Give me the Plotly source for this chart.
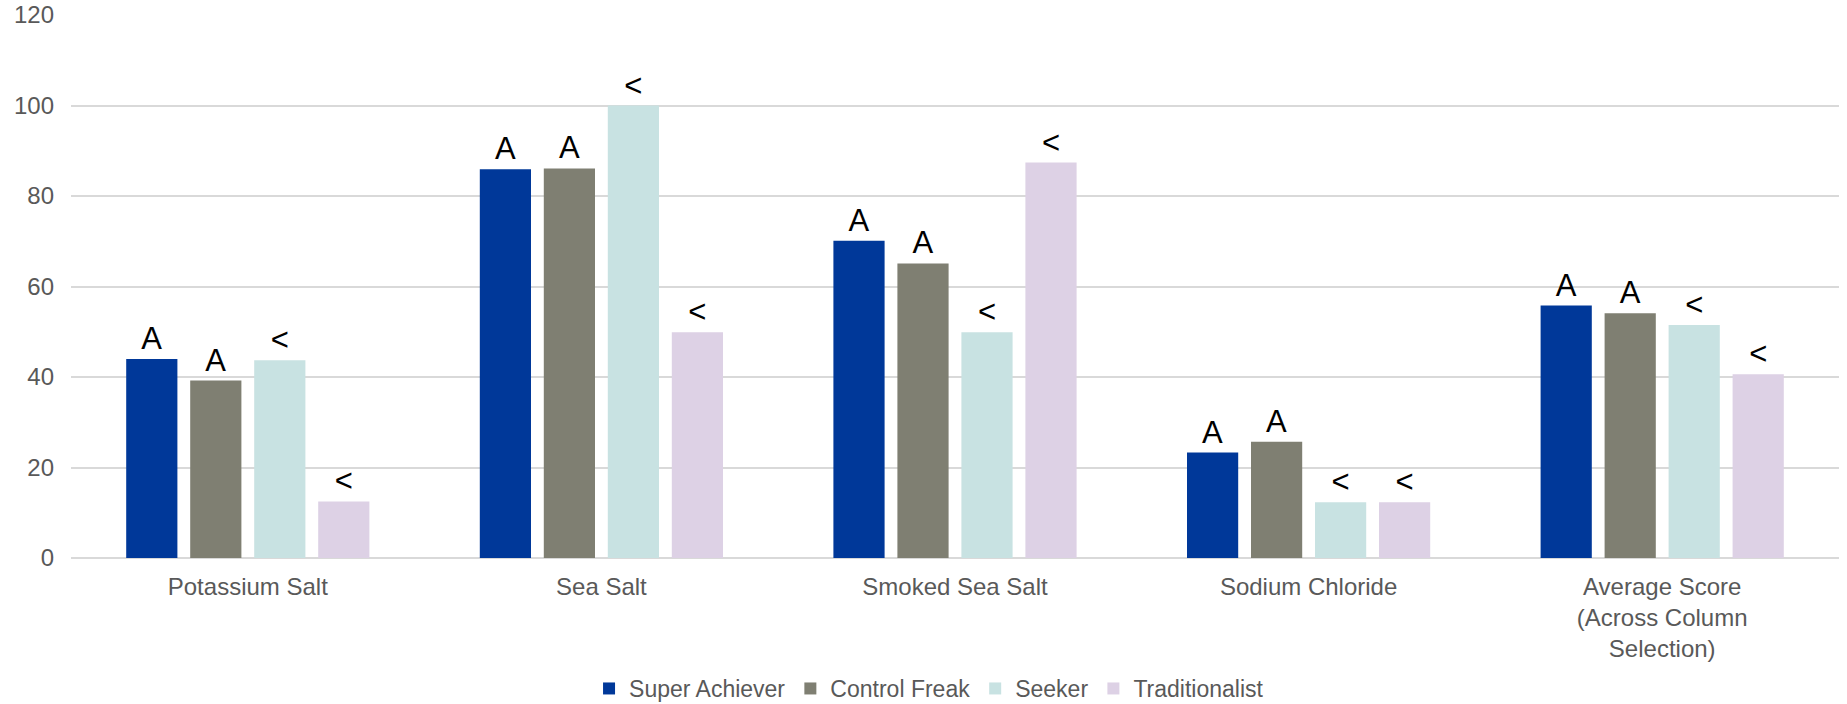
import plotly.graph_objects as go

categories = ["Potassium Salt", "Sea Salt", "Smoked Sea Salt", "Sodium Chloride",
              "Average Score<br>(Across Column<br>Selection)"]

super_achiever = [44.0, 85.9, 70.1, 23.3, 55.8]
control_freak = [39.2, 86.1, 65.1, 25.7, 54.1]
seeker = [43.7, 100.0, 49.9, 12.3, 51.5]
traditionalist = [12.5, 49.9, 87.4, 12.3, 40.6]

super_achiever_marks = ["A", "A", "A", "A", "A"]
control_freak_marks = ["A", "A", "A", "A", "A"]
seeker_marks = ["<", "<", "<", "<", "<"]
traditionalist_marks = ["<", "<", "<", "<", "<"]

series = [
    ("Super Achiever", super_achiever, super_achiever_marks, "#003899"),
    ("Control Freak", control_freak, control_freak_marks, "#7f7f72"),
    ("Seeker", seeker, seeker_marks, "#c8e2e2"),
    ("Traditionalist", traditionalist, traditionalist_marks, "#ddd1e5"),
]

font_family = "Liberation Sans, Arial, sans-serif"

fig = go.Figure()
for name, vals, marks, color in series:
    fig.add_trace(go.Bar(
        name=name,
        x=categories,
        y=vals,
        text=marks,
        textposition="outside",
        constraintext="none",
        textfont=dict(family=font_family, size=31, color="#000000"),
        marker=dict(color=color, line=dict(width=0)),
        cliponaxis=False,
        hoverinfo="skip",
    ))

fig.update_layout(
    width=1847,
    height=704,
    margin=dict(l=71, r=8, t=15, b=146, autoexpand=False),
    paper_bgcolor="white",
    plot_bgcolor="white",
    barmode="group",
    bargap=0.276,
    bargroupgap=0.2,
    font=dict(family=font_family, size=24, color="#595959"),
    showlegend=True,
    legend=dict(
        orientation="h",
        xref="container",
        yref="container",
        x=0.503,
        xanchor="center",
        y=0.022,
        yanchor="middle",
        font=dict(family=font_family, size=23, color="#595959"),
        itemwidth=30,
        traceorder="normal",
    ),
    xaxis=dict(
        showgrid=False,
        showline=False,
        zeroline=False,
        ticks="",
        automargin=False,
        tickfont=dict(family=font_family, size=24, color="#595959"),
        ticklabelstandoff=12,
    ),
    yaxis=dict(
        range=[0, 120],
        dtick=20,
        tick0=0,
        showgrid=True,
        gridcolor="#d9d9d9",
        gridwidth=1.5,
        zeroline=True,
        zerolinecolor="#d9d9d9",
        zerolinewidth=1.5,
        showline=False,
        ticks="",
        automargin=False,
        tickfont=dict(family=font_family, size=24, color="#595959"),
        ticklabelstandoff=16,
    ),
)

fig.write_html("out.html")
